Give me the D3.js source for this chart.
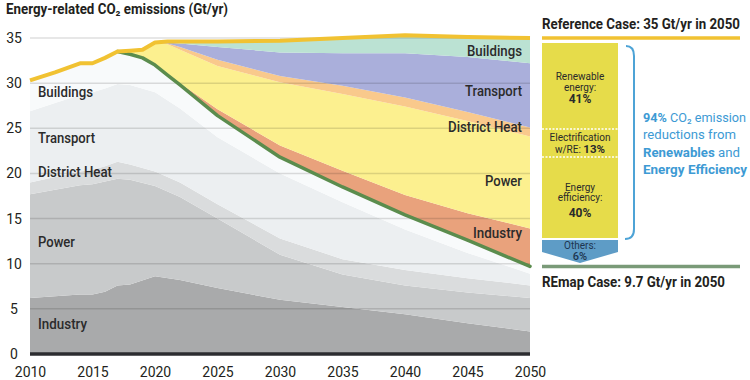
<!DOCTYPE html>
<html><head><meta charset="utf-8">
<script src="https://cdn.jsdelivr.net/npm/d3@7"></script>
<style>
body{margin:0;background:#fff}
svg{display:block;font-family:Roboto,"Open Sans",sans-serif}
</style>
</head><body>
<svg id="c" width="750" height="380"></svg>
<script>
// ---------------- DATA ----------------
const sectors = ["Industry", "Power", "District Heat", "Transport", "Buildings"];

// Reference case total (historic + projection), Gt/yr
const refYears  = [2010, 2012, 2014, 2015, 2016, 2017, 2018, 2019, 2020, 2021, 2022, 2025, 2030, 2035, 2040, 2045, 2050];
const refValues = [30.3, 31.2, 32.2, 32.2, 32.8, 33.5, 33.6, 33.7, 34.5, 34.6, 34.6, 34.6, 34.7, 35.0, 35.3, 35.1, 35.0];

// REmap case total, Gt/yr
const remapYears  = [2017, 2018, 2019, 2020, 2021, 2022, 2025, 2030, 2035, 2040, 2045, 2050];
const remapValues = [33.5, 33.2, 32.8, 32.0, 30.9, 29.8, 26.4, 21.8, 18.5, 15.4, 12.6, 9.7];

// Reductions (Reference minus REmap) by sector, on remapYears
const cutIndustry  = [0, 0, 0, 0, 0, 0.2, 0.7, 1.3, 1.8, 2.2, 3.0, 4.2];
const cutPower     = [0, 0.4, 0.9, 2.5, 3.4, 3.7, 4.8, 7.0, 8.5, 9.8, 10.2, 10.2];
const cutHeat      = [0, 0, 0, 0, 0.1, 0.3, 0.7, 0.7, 0.9, 1.0, 1.0, 1.0];
const cutTransport = [0, 0, 0, 0, 0.1, 0.4, 1.4, 2.6, 3.6, 4.9, 6.1, 7.1];
const cutBuildings = [0, 0, 0, 0, 0.1, 0.2, 0.6, 1.3, 1.7, 2.0, 2.2, 2.8];

// Remaining emissions by sector (historic, then REmap case)
const sectorYears   = [2010, 2012, 2014, 2015, 2016, 2017, 2018, 2020, 2022, 2025, 2030, 2035, 2040, 2045, 2050];
const emitIndustry  = [6.2, 6.4, 6.6, 6.6, 6.9, 7.6, 7.7, 8.6, 8.2, 7.3, 6.0, 5.2, 4.4, 3.4, 2.5];
const emitPower     = [11.5, 11.8, 12.1, 12.2, 12.2, 11.8, 11.6, 10.0, 9.2, 7.7, 5.0, 3.6, 3.2, 3.4, 3.7];
const emitHeat      = [1.3, 1.4, 1.5, 1.6, 1.7, 1.9, 1.7, 1.6, 1.6, 1.6, 1.8, 1.7, 1.7, 1.6, 1.4];
const emitTransport = [7.9, 8.2, 8.5, 8.6, 8.6, 8.6, 8.8, 8.8, 8.2, 7.4, 7.2, 6.3, 4.5, 2.8, 1.3];
const emitBuildings = [3.4, 3.4, 3.5, 3.2, 3.4, 3.6, 3.4, 3.0, 2.6, 2.4, 1.8, 1.7, 1.6, 1.4, 0.8];

const xTicks = [2010, 2015, 2020, 2025, 2030, 2035, 2040, 2045, 2050];
const yTicks = [0, 5, 10, 15, 20, 25, 30, 35];

// Reduction shares (right panel)
const shareLabels = ["Renewable energy:", "Electrification w/RE:", "Energy efficiency:", "Others:"];
const shareValues = [41, 13, 40, 6];
const referenceTotal2050 = 35;
const remapTotal2050 = 9.7;

// ---------------- DRAW ----------------
const svg = d3.select("#c");
const x = d3.scaleLinear().domain([2010, 2050]).range([30, 530]);
const y = d3.scaleLinear().domain([0, 35]).range([354, 38]);

const greyColors = {"Industry":"#a9aaab","Power":"#c8cacb","District Heat":"#dadcdd","Transport":"#eceff1","Buildings":"#f8fafb"};
const cutColors  = {"Industry":"#e9a27c","Power":"#fcf08f","District Heat":"#f9c98c","Transport":"#aaafdb","Buildings":"#bbe2d3"};

// grey stack
const emitArrays = {"Industry":emitIndustry,"Power":emitPower,"District Heat":emitHeat,"Transport":emitTransport,"Buildings":emitBuildings};
const emitRows = sectorYears.map((yr,i)=>{const r={year:yr}; sectors.forEach(s=>r[s]=emitArrays[s][i]); return r;});
const greyStack = d3.stack().keys(sectors)(emitRows);
const area = d3.area().x(d=>x(d.data.year)).y0(d=>y(d[0])).y1(d=>y(d[1]));
svg.append("g").selectAll("path").data(greyStack).join("path")
  .attr("d", area).attr("fill", d=>greyColors[d.key]);

// reduction wedges stacked on REmap line
const cutArrays = {"Industry":cutIndustry,"Power":cutPower,"District Heat":cutHeat,"Transport":cutTransport,"Buildings":cutBuildings};
const cutRows = remapYears.map((yr,i)=>{const r={year:yr, remap:remapValues[i]}; sectors.forEach(s=>r[s]=cutArrays[s][i]); return r;});
const cutStack = d3.stack().keys(["remap"].concat(sectors))(cutRows);
svg.append("g").selectAll("path").data(cutStack.slice(1)).join("path")
  .attr("d", area).attr("fill", d=>cutColors[d.key]);

// gridlines
svg.append("g").selectAll("line").data(yTicks.filter(v=>v>0)).join("line")
  .attr("x1", x(2010)).attr("x2", x(2050))
  .attr("y1", d=>y(d)).attr("y2", d=>y(d))
  .attr("stroke", "#000").attr("stroke-opacity", 0.13).attr("stroke-width", 1.5);

// baseline bar
svg.append("line").attr("x1", x(2010)).attr("x2", x(2050)).attr("y1", y(0)).attr("y2", y(0))
  .attr("stroke", "#2c2c30").attr("stroke-width", 3.5);

// lines
const line = d3.line().x(d=>x(d[0])).y(d=>y(d[1]));
svg.append("path").datum(remapYears.map((yr,i)=>[yr, remapValues[i]]))
  .attr("d", line).attr("fill","none").attr("stroke","#5b8c4d").attr("stroke-width",3.5)
  .attr("stroke-linejoin","round").attr("stroke-linecap","round");
svg.append("path").datum(refYears.map((yr,i)=>[yr, refValues[i]]))
  .attr("d", line).attr("fill","none").attr("stroke","#f1c232").attr("stroke-width",4)
  .attr("stroke-linejoin","round");

// axes
const xAxis = svg.append("g").attr("transform", `translate(0,${y(0)})`)
  .call(d3.axisBottom(x).tickValues(xTicks).tickFormat(d3.format("d")).tickSize(0).tickPadding(13));
xAxis.select(".domain").remove();
xAxis.selectAll("text").attr("font-size", 14).attr("fill", "#231f20").attr("font-family","Roboto, sans-serif");

const yAxis = svg.append("g").attr("transform", "translate(14,0)")
  .call(d3.axisLeft(y).tickValues(yTicks).tickSize(0).tickPadding(0));
yAxis.select(".domain").remove();
yAxis.selectAll("text").attr("font-size", 14).attr("fill", "#231f20").attr("text-anchor","middle").attr("x",0)
  .attr("font-family","Roboto, sans-serif");

// title
svg.append("text").attr("x", 6).attr("y", 14).attr("font-size", 14).attr("font-weight", 700)
  .attr("fill", "#231f20").attr("textLength", 222).attr("lengthAdjust", "spacingAndGlyphs")
  .text("Energy-related CO₂ emissions (Gt/yr)");

// sector labels (left: remaining emissions; right: reductions)
const leftLab = [["Buildings",97,55],["Transport",143,57],["District Heat",177,74],["Power",247,37],["Industry",329,49]];
const rightLab = [["Buildings",56,55],["Transport",96,57],["District Heat",132,74],["Power",186,37],["Industry",238,49]];
leftLab.forEach(([t,yy,w])=>svg.append("text").attr("x",38).attr("y",yy).text(t)
  .attr("font-size",14).attr("font-weight",500).attr("fill","#2b2b2b")
  .attr("textLength",w).attr("lengthAdjust","spacingAndGlyphs"));
rightLab.forEach(([t,yy,w])=>svg.append("text").attr("x",522).attr("y",yy).text(t)
  .attr("text-anchor","end").attr("font-size",14).attr("font-weight",500).attr("fill","#2b2b2b")
  .attr("textLength",w).attr("lengthAdjust","spacingAndGlyphs"));

// ---------------- right panel ----------------
const px0 = 542, px1 = 740;
svg.append("text").attr("x", px0).attr("y", 29).text(`Reference Case: ${referenceTotal2050} Gt/yr in 2050`)
  .attr("font-size", 14).attr("font-weight", 700).attr("fill", "#231f20")
  .attr("textLength", 198).attr("lengthAdjust", "spacingAndGlyphs");
svg.append("line").attr("x1", px0).attr("x2", px1).attr("y1", y(referenceTotal2050)).attr("y2", y(referenceTotal2050))
  .attr("stroke", "#f1c232").attr("stroke-width", 3.5);
svg.append("line").attr("x1", px0).attr("x2", px1).attr("y1", y(remapTotal2050)).attr("y2", y(remapTotal2050))
  .attr("stroke", "#7a9a78").attr("stroke-width", 3.5);
svg.append("text").attr("x", px0).attr("y", 287).text(`REmap Case: ${remapTotal2050} Gt/yr in 2050`)
  .attr("font-size", 14).attr("font-weight", 700).attr("fill", "#231f20")
  .attr("textLength", 183).attr("lengthAdjust", "spacingAndGlyphs");

// box
const bx = 542, bw = 76, bTop = 43, bBot = 238;
svg.append("rect").attr("x", bx).attr("y", bTop).attr("width", bw).attr("height", bBot-bTop).attr("fill", "#e6dc4a");
[129, 157].forEach(yy=>svg.append("line").attr("x1",bx).attr("x2",bx+bw).attr("y1",yy).attr("y2",yy)
  .attr("stroke","#fff").attr("stroke-width",1.5).attr("stroke-dasharray","2,1.5"));
// others arrow
svg.append("path").attr("d", `M${bx},240 L${bx+bw},240 L${bx+bw},252 L${bx+bw/2},263 L${bx},252 Z`).attr("fill","#5e9cc6");

const cx = bx + bw/2;
function boxText(t, yy, size, weight, fill){
  svg.append("text").attr("x", cx).attr("y", yy).attr("text-anchor","middle").text(t)
    .attr("font-size", size).attr("font-weight", weight||400).attr("fill", fill||"#2a2a2a");
}
boxText("Renewable", 80, 10);
boxText("energy:", 90.5, 10);
boxText(shareValues[0] + "%", 103, 12, 700);
boxText("Electrification", 141, 10);
svg.append("text").attr("x", cx).attr("y", 152.5).attr("text-anchor","middle").attr("font-size",10).attr("fill","#2a2a2a")
  .call(t=>{t.append("tspan").text("w/RE: "); t.append("tspan").text(shareValues[1]+"%").attr("font-weight",700).attr("font-size",11.5);});
boxText("Energy", 190.5, 10);
boxText("efficiency:", 201, 10);
boxText(shareValues[2] + "%", 217, 12, 700);
boxText("Others:", 248.5, 10, 400, "#1d3550");
boxText(shareValues[3] + "%", 259.5, 11, 500, "#1d3550");

// bracket
svg.append("path").attr("d","M626,46 Q634,46 634,56 L634,229 Q634,239 625,239")
  .attr("fill","none").attr("stroke","#4da3d6").attr("stroke-width",2);

// blue text
const blue = "#3d9ad4";
const tx = 643;
svg.append("text").attr("x",tx).attr("y",122).attr("font-size",13).attr("fill",blue)
  .attr("textLength",103).attr("lengthAdjust","spacingAndGlyphs")
  .call(t=>{t.append("tspan").text("94%").attr("font-weight",700);
            t.append("tspan").text(" CO₂ emission");});
svg.append("text").attr("x",tx).attr("y",139).attr("font-size",13).attr("fill",blue)
  .attr("textLength",93).attr("lengthAdjust","spacingAndGlyphs").text("reductions from");
svg.append("text").attr("x",tx).attr("y",157).attr("font-size",13).attr("fill",blue)
  .attr("textLength",97).attr("lengthAdjust","spacingAndGlyphs")
  .call(t=>{t.append("tspan").text("Renewables").attr("font-weight",700); t.append("tspan").text(" and");});
svg.append("text").attr("x",tx).attr("y",174).attr("font-size",13).attr("fill",blue).attr("font-weight",700)
  .attr("textLength",104).attr("lengthAdjust","spacingAndGlyphs").text("Energy Efficiency");
</script>
</body></html>
